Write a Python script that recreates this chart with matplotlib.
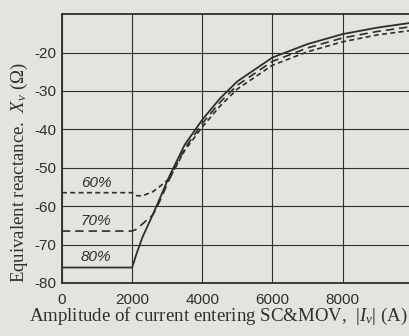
import matplotlib.pyplot as plt

plt.rcParams['mathtext.fontset'] = 'custom'
plt.rcParams['mathtext.it'] = 'Liberation Serif:italic'
plt.rcParams['mathtext.rm'] = 'Liberation Serif'

corrente = [0, 2000, 2130, 2300, 2600, 2800, 3000, 3100, 3500, 4000, 4500, 5000, 6000, 7000, 8000, 9000, 10000]
x_80 = [-76, -76, -72.3, -68, -62, -57.8, -53.5, -51.5, -44, -37.5, -32, -27.5, -21.3, -17.8, -15.2, -13.5, -12.2]
x_70 = [-66.5, -66.5, -66, -64.6, -62.2, -58.5, -54.3, -52.3, -45, -38.5, -33, -28.5, -22.3, -18.8, -16.2, -14.5, -13.2]
x_60 = [-56.5, -56.5, -57.3, -57.3, -56.2, -54.8, -53.3, -52.2, -45.5, -39.4, -34, -29.5, -23.3, -19.8, -17.2, -15.4, -14.2]
rotulos = ['60%', '70%', '80%']
xticks = [0, 2000, 4000, 6000, 8000]
yticks = [-80, -70, -60, -50, -40, -30, -20]

fundo = '#e4e4df'
tinta = '#2e2e2e'

fig = plt.figure(figsize=(4.10, 3.36), dpi=100, facecolor=fundo)
ax = fig.add_axes([0.151, 0.158, 0.856, 0.80], facecolor=fundo)

ax.plot(corrente, x_80, color=tinta, lw=1.3, ls='-')
ax.plot(corrente, x_70, color=tinta, lw=1.2, ls=(0, (5, 3)))
ax.plot(corrente, x_60, color=tinta, lw=1.2, ls=(0, (3, 2)))

for txt, yv in zip(rotulos, [x_60[0], x_70[0], x_80[0]]):
    ax.text(970, yv + 0.8, txt, ha='center', va='bottom', fontsize=11,
            style='italic', family='Liberation Sans', color=tinta)

ax.set_xlim(0, 10000)
ax.set_ylim(-80, -10)
ax.set_xticks(xticks)
ax.set_yticks(yticks)
ax.set_xticklabels([str(v) for v in xticks], family='Liberation Sans', fontsize=11, color=tinta)
ax.set_yticklabels([str(v) for v in yticks], family='Liberation Sans', fontsize=11, color=tinta)
ax.tick_params(axis='x', length=0, pad=7)
ax.tick_params(axis='y', length=0, pad=4)
ax.grid(True, color=tinta, lw=0.8)
for s in ax.spines.values():
    s.set_color(tinta)
    s.set_linewidth(1.3)

ax.set_xlabel(r'Amplitude of current entering SC&MOV,  |$I_{v}$| (A)',
              family='Liberation Serif', fontsize=13.6, color=tinta)
ax.set_ylabel(r'Equivalent reactance.  $X_{v}$ ($\Omega$)',
              family='Liberation Serif', fontsize=13.5, color=tinta)
ax.xaxis.set_label_coords(0.447, -0.085)
ax.yaxis.set_label_coords(-0.09, 0.41)

fig.savefig('out.png', dpi=100, facecolor=fundo)
